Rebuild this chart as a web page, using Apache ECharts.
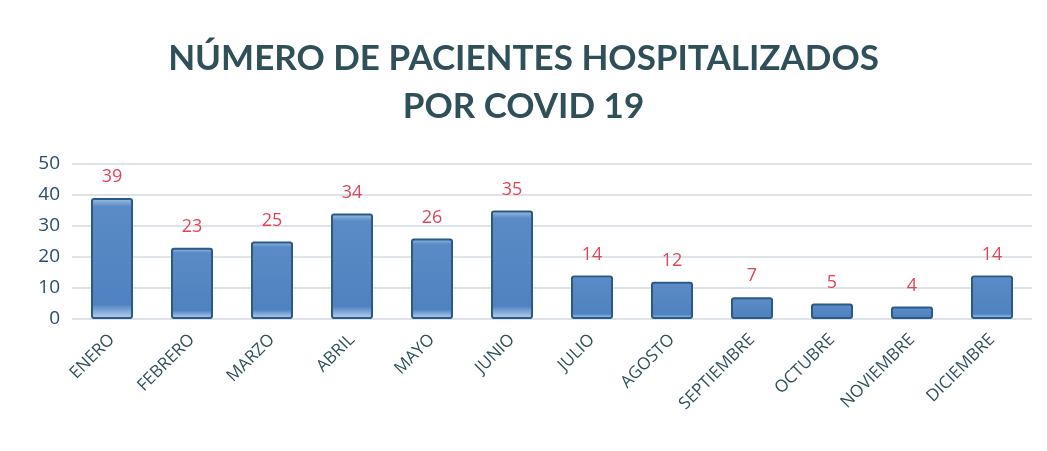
<!DOCTYPE html>
<html>
<head>
<meta charset="utf-8">
<script src="https://cdn.jsdelivr.net/npm/echarts@6/dist/echarts.min.js"></script>
<style>
  html, body { margin: 0; padding: 0; background: #fff; }
  #chart { width: 1047px; height: 451px; }
</style>
</head>
<body>
<div id="chart"></div>
<script>
const months = ['ENERO', 'FEBRERO', 'MARZO', 'ABRIL', 'MAYO', 'JUNIO', 'JULIO', 'AGOSTO', 'SEPTIEMBRE', 'OCTUBRE', 'NOVIEMBRE', 'DICIEMBRE'];
const patients = [39, 23, 25, 34, 26, 35, 14, 12, 7, 5, 4, 14];
const titleLines = ['NÚMERO DE PACIENTES HOSPITALIZADOS', 'POR COVID 19'];

const chart = echarts.init(document.getElementById('chart'));

// bevel-ish fill, like the office chart
const barFill = new echarts.graphic.LinearGradient(0, 0, 0, 1, [
  { offset: 0, color: '#9fc2ea' },
  { offset: 0.07, color: '#5a8bc6' },
  { offset: 0.88, color: '#4f82c0' },
  { offset: 1, color: '#bcd6f3' }
]);

const option = {
  backgroundColor: '#ffffff',
  animation: false,
  title: {
    text: titleLines.join('\n'),
    left: 'center',
    top: 30,
    textStyle: {
      fontFamily: 'Lato',
      fontWeight: 'bold',
      fontSize: 35,
      lineHeight: 48,
      color: '#2f5058'
    }
  },
  grid: {
    top: 164,
    left: 72,
    right: 15,
    bottom: 132
  },
  xAxis: {
    type: 'category',
    data: months,
    axisLine: { show: false },
    axisTick: { show: false },
    axisLabel: {
      rotate: 45,
      interval: 0,
      margin: 18,
      color: '#2f5058',
      fontFamily: 'Open Sans',
      fontSize: 17
    }
  },
  yAxis: {
    type: 'value',
    min: 0,
    max: 50,
    interval: 10,
    axisLabel: {
      color: '#2b4c6f',
      fontFamily: 'Open Sans',
      fontSize: 19,
      margin: 12
    },
    splitLine: { lineStyle: { color: '#dde3e8', width: 2 } }
  },
  series: [
    {
      type: 'bar',
      data: patients,
      barWidth: 42,
      itemStyle: {
        color: barFill,
        borderColor: '#2a5a86',
        borderWidth: 2,
        borderRadius: 2
      },
      label: {
        show: true,
        position: 'top',
        distance: 12,
        color: '#e0455c',
        fontFamily: 'Open Sans',
        fontSize: 18
      }
    }
  ]
};

chart.setOption(option);
</script>
</body>
</html>
